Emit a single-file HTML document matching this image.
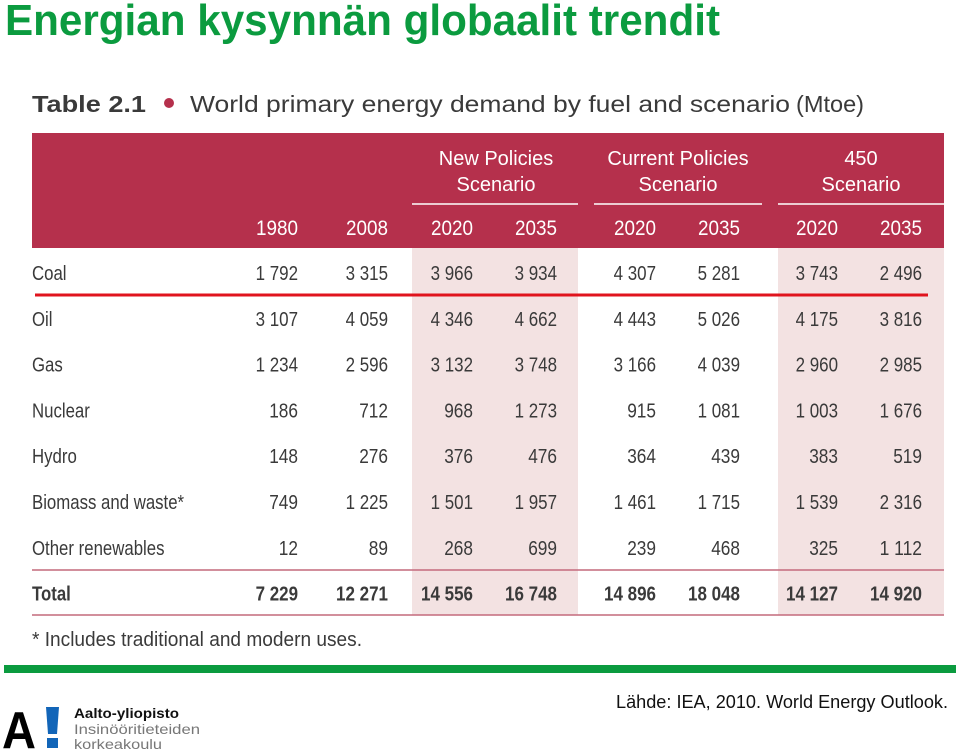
<!DOCTYPE html>
<html><head><meta charset="utf-8">
<style>
html,body{margin:0;padding:0;background:#fff;width:960px;height:751px;overflow:hidden}
svg{display:block}
text{font-family:"Liberation Sans",sans-serif}
</style></head>
<body>
<svg id="s" width="960" height="751" viewBox="0 0 960 751">
<text x="5" y="35" font-size="44" font-weight="bold" fill="#0b9b3f" textLength="715" lengthAdjust="spacingAndGlyphs">Energian kysynnän globaalit trendit</text>
<g>
<text x="32" y="112" font-size="23" font-weight="bold" fill="#3a3a3a" textLength="114" lengthAdjust="spacingAndGlyphs">Table 2.1</text>
<circle cx="169" cy="103" r="5" fill="#b5304c"/>
<text x="190" y="112" font-size="23" fill="#3a3a3a" textLength="600" lengthAdjust="spacingAndGlyphs">World primary energy demand by fuel and scenario</text>
<text x="796" y="112" font-size="23" fill="#3a3a3a" textLength="68" lengthAdjust="spacingAndGlyphs">(Mtoe)</text>
</g>
<rect x="412" y="248" width="166" height="367" fill="#f3e2e2"/>
<rect x="778" y="248" width="166" height="367" fill="#f3e2e2"/>
<rect x="32" y="133" width="912" height="115" fill="#b5304c"/>
<g id="hdr" fill="#fff" font-size="20">
<text x="496" y="165" text-anchor="middle">New Policies</text>
<text x="496" y="191" text-anchor="middle">Scenario</text>
<text x="678" y="165" text-anchor="middle">Current Policies</text>
<text x="678" y="191" text-anchor="middle">Scenario</text>
<text x="861" y="165" text-anchor="middle">450</text>
<text x="861" y="191" text-anchor="middle">Scenario</text>
</g>
<line x1="412" y1="204" x2="578" y2="204" stroke="#fff" stroke-width="1.5"/>
<line x1="594" y1="204" x2="762" y2="204" stroke="#fff" stroke-width="1.5"/>
<line x1="778" y1="204" x2="944" y2="204" stroke="#fff" stroke-width="1.5"/>
<line x1="35" y1="295" x2="928" y2="295" stroke="#e0141e" stroke-width="3"/>
<line x1="32" y1="570" x2="944" y2="570" stroke="#c46a7c" stroke-width="1.5"/>
<line x1="32" y1="615" x2="944" y2="615" stroke="#c46a7c" stroke-width="1.5"/>
<g id="body"></g>
<text x="32" y="646" font-size="20" fill="#3a3a3a" textLength="330" lengthAdjust="spacingAndGlyphs">* Includes traditional and modern uses.</text>
<rect x="4" y="665" width="952" height="8" fill="#0b9b3f"/>
<text x="948" y="708" font-size="18" fill="#111" text-anchor="end" textLength="332" lengthAdjust="spacingAndGlyphs">Lähde: IEA, 2010. World Energy Outlook.</text>
<g>
<text x="2" y="748" font-size="52" font-weight="bold" fill="#000" textLength="34" lengthAdjust="spacingAndGlyphs">A</text>
<polygon points="46,707 59,707 57,734 48,734" fill="#1265b8"/>
<rect x="47" y="738" width="11" height="10" fill="#1265b8"/>
<text x="74" y="718" font-size="14" font-weight="bold" fill="#111" textLength="105" lengthAdjust="spacingAndGlyphs">Aalto-yliopisto</text>
<text x="74" y="734" font-size="14" fill="#777" textLength="126" lengthAdjust="spacingAndGlyphs">Insinööritieteiden</text>
<text x="74" y="749" font-size="14" fill="#777" textLength="88" lengthAdjust="spacingAndGlyphs">korkeakoulu</text>
</g>
</svg>
<script>
const years = ["1980","2008","2020","2035","2020","2035","2020","2035"];
const fuels = ["Coal","Oil","Gas","Nuclear","Hydro","Biomass and waste*","Other renewables","Total"];
const v1980 = ["1 792","3 107","1 234","186","148","749","12","7 229"];
const v2008 = ["3 315","4 059","2 596","712","276","1 225","89","12 271"];
const npp2020 = ["3 966","4 346","3 132","968","376","1 501","268","14 556"];
const npp2035 = ["3 934","4 662","3 748","1 273","476","1 957","699","16 748"];
const cps2020 = ["4 307","4 443","3 166","915","364","1 461","239","14 896"];
const cps2035 = ["5 281","5 026","4 039","1 081","439","1 715","468","18 048"];
const s450_2020 = ["3 743","4 175","2 960","1 003","383","1 539","325","14 127"];
const s450_2035 = ["2 496","3 816","2 985","1 676","519","2 316","1 112","14 920"];
const cols = [v1980,v2008,npp2020,npp2035,cps2020,cps2035,s450_2020,s450_2035];
const colNames = ["1980","2008","np-2020","np-2035","cp-2020","cp-2035","450-2020","450-2035"];

const NS="http://www.w3.org/2000/svg";
const body=document.getElementById('body');
const colRight=[298,388,473,557,656,740,838,922];
function rowY(i){return 280+i*45.8;}
function mk(tag,attrs,txt){const e=document.createElementNS(NS,tag);for(const k in attrs)e.setAttribute(k,attrs[k]);if(txt!=null)e.textContent=txt;return e;}
years.forEach((y,j)=>{
  const t=mk('text',{x:colRight[j],y:235,'font-size':21,fill:'#fff','text-anchor':'end',textLength:42,lengthAdjust:'spacingAndGlyphs'},y);
  
  
  body.appendChild(t);
});
fuels.forEach((f,i)=>{
  const bold=i===fuels.length-1;
  const slug=f.toLowerCase().replace(/[^a-z]+/g,'-').replace(/-$/,'');
  const lab=mk('text',{x:0,y:0,'font-size':20,fill:'#3a3a3a','font-weight':bold?'bold':'normal',transform:'translate(32,'+rowY(i)+') scale(0.84,1)'},f);
  
  
  body.appendChild(lab);
  cols.forEach((c,j)=>{
    const s=c[i];
    const w=s.replace(/ /g,'').length*9.6+(s.includes(' ')?4:0);
    const t=mk('text',{x:colRight[j],y:rowY(i),'font-size':20,fill:'#3a3a3a','font-weight':bold?'bold':'normal','text-anchor':'end',textLength:w,lengthAdjust:'spacingAndGlyphs'},s);
    
    
    body.appendChild(t);
  });
});
</script>
</body></html>
